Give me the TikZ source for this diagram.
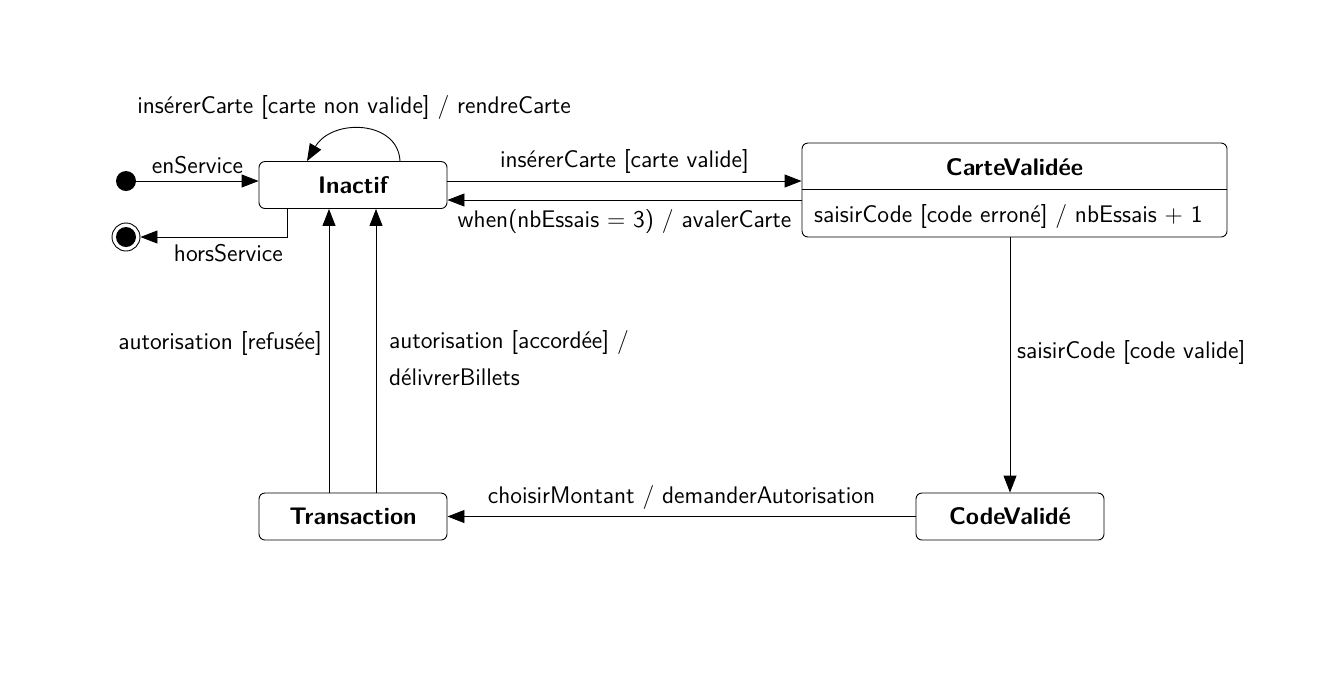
\documentclass[tikz,border=0pt]{standalone}
\usetikzlibrary{arrows.meta}
\begin{document}
\sffamily
\begin{tikzpicture}[
        x = 0.5pt, y = -0.5pt,
        line width = 0.45pt,
        font = \fontsize{12pt}{14.5pt}\selectfont,
        etat/.style = {draw, rounded corners=3pt, font=\large\bfseries, minimum width=94pt, minimum height=23.5pt},
        fleche/.style = {-{Triangle[length=8.5pt,width=6.5pt]}}]
      \useasboundingbox (0,0) rectangle (1321,682);
      \node [etat] (inactif) at (353,185) {Inactif};
      \node [etat] (transaction) at (353,516.5) {Transaction};
      \node [etat] (codevalide) at (1010,516.5) {CodeValid\'e};
      \node [etat, minimum width=212.5pt, minimum height=47pt] (cartevalidee) at (1014.5,190) {};
      \node [font=\large\bfseries] (cartenom) at (1014.5,167) {CarteValid\'ee};
      \node [anchor=west] (carteact) at (807,216) {saisirCode [code erron\'e] / nbEssais $+$ 1};
      \coordinate (cartesep) at (0,189);
      \draw (cartevalidee.west |- cartesep) -- (cartevalidee.east |- cartesep);
      \node [circle, fill, minimum size=10pt, inner sep=0pt] (debut) at (126,181) {};
      \node [circle, draw, minimum size=14pt, inner sep=0pt] (fin) at (126,237) {};
      \fill (fin) circle (5pt);
      \draw [fleche] (debut) -- (debut -| inactif.west) node [midway, above] {enService};
      \draw [fleche] ([xshift=-33pt]inactif.south) |- (fin.east) node [pos=0.7, below] {horsService};
      \draw [fleche] ([xshift=23.5pt]inactif.north) .. controls (398,120) and (332,118) .. ([xshift=-23pt]inactif.north);
      \node (boucle) at (354,107) {ins\'ererCarte [carte non valide] / rendreCarte};
      \draw [fleche] ([yshift=2pt]inactif.east) -- ([yshift=4.5pt]cartevalidee.west) node [midway, above] {ins\'ererCarte [carte valide]};
      \draw [fleche] ([yshift=-5pt]cartevalidee.west) -- ([yshift=-7.5pt]inactif.east) node [midway, below, yshift=-1pt] {when(nbEssais $=$ 3) / avalerCarte};
      \draw [fleche] (cartevalidee.south -| codevalide.north) -- (codevalide.north) node [pos=0.45, right] {saisirCode [code valide]};
      \draw [fleche] (codevalide.west) -- (transaction.east) node [midway, above] {choisirMontant / demanderAutorisation};
      \draw [fleche] ([xshift=-12pt]transaction.north) -- ([xshift=-12pt]inactif.south) node [pos=0.526, left] {autorisation [refus\'ee]};
      \draw [fleche] ([xshift=11.5pt]transaction.north) -- ([xshift=11.5pt]inactif.south) node [pos=0.526, align=left, anchor=north west, xshift=3pt, yshift=10pt] {autorisation [accord\'ee] /\\[4pt] d\'elivrerBillets};
    \end{tikzpicture}
\end{document}
